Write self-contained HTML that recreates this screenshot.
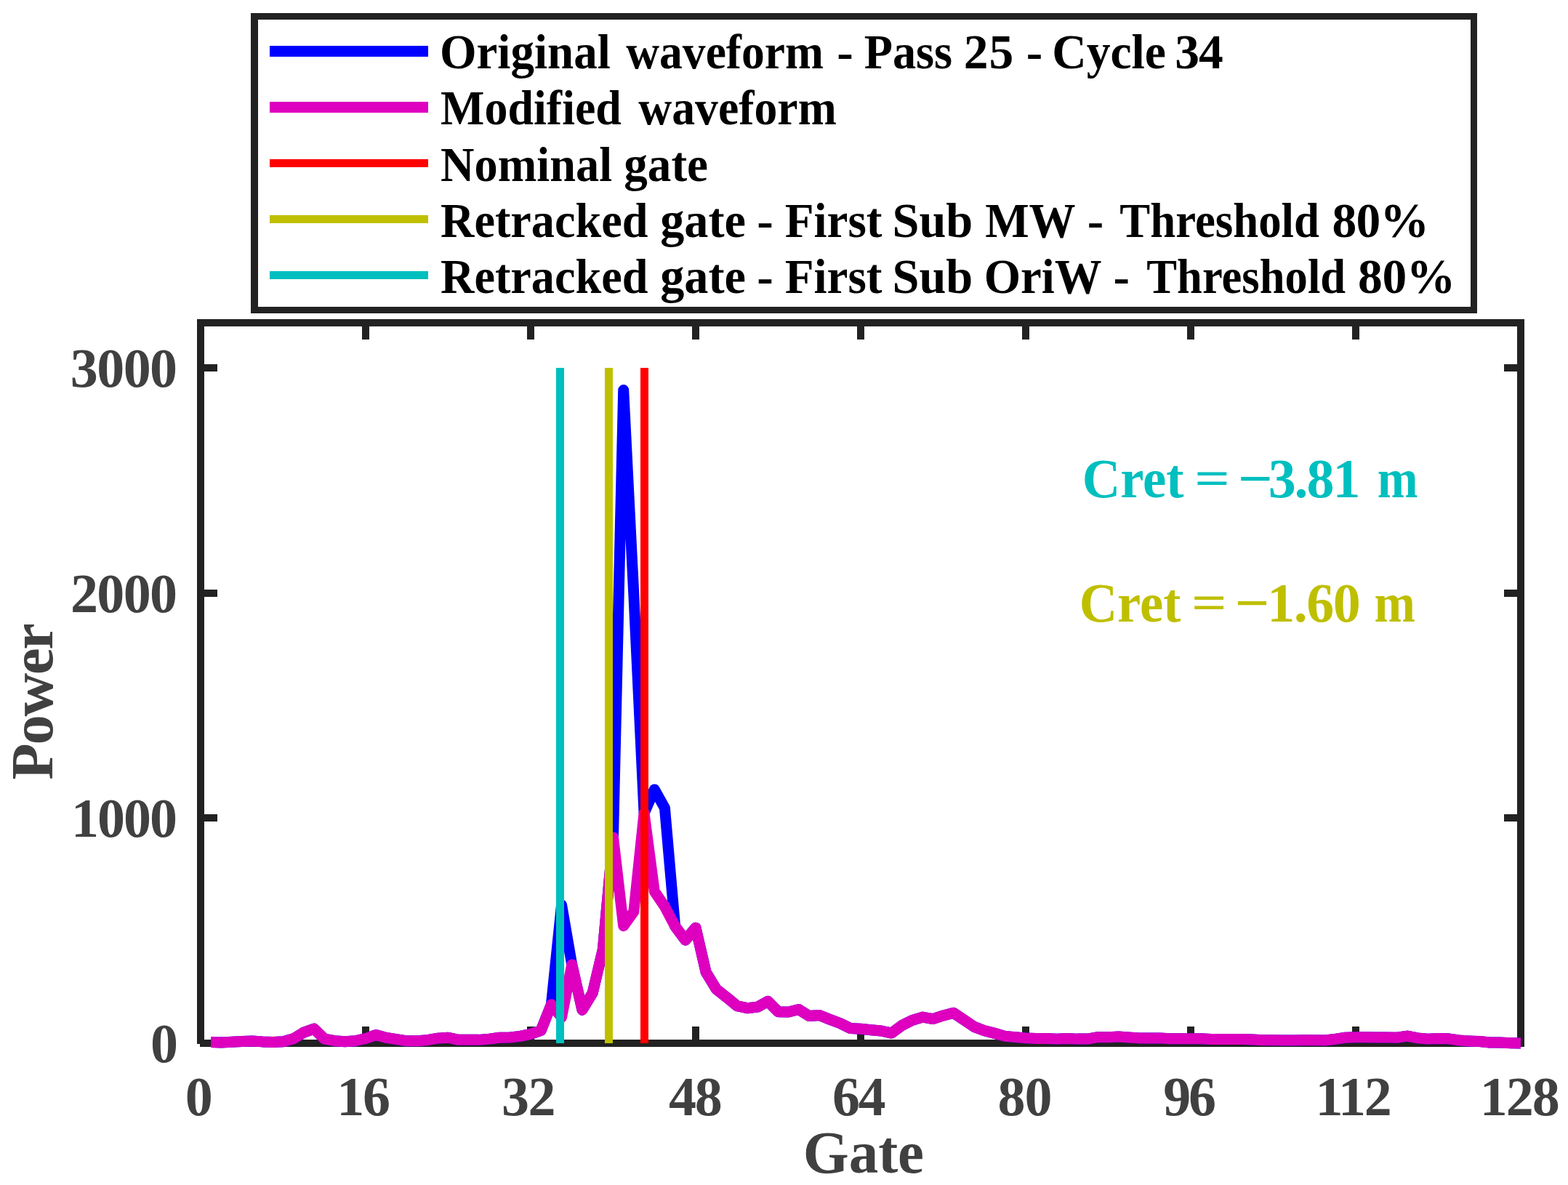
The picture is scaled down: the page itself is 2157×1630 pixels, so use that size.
<!DOCTYPE html>
<html><head><meta charset="utf-8"><title>Waveform plot</title><style>
html,body{margin:0;padding:0;background:#fff;}
body{width:2157px;height:1630px;overflow:hidden;}
svg{display:block;}
text{white-space:pre;}
</style></head><body>
<svg width="2157" height="1630" viewBox="0 0 2157 1630">
<rect width="2157" height="1630" fill="#fff"/>
<rect x="271" y="439" width="10" height="997" fill="#222222"/>
<rect x="271" y="439" width="1826" height="10" fill="#222222"/>
<rect x="2087" y="439" width="10" height="1001" fill="#222222"/>
<rect x="275" y="1430" width="1822" height="10" fill="#222222"/>
<rect x="498" y="449" width="10" height="18" fill="#222222"/>
<rect x="498" y="1412" width="10" height="18" fill="#222222"/>
<rect x="725" y="449" width="10" height="18" fill="#222222"/>
<rect x="725" y="1412" width="10" height="18" fill="#222222"/>
<rect x="952" y="449" width="10" height="18" fill="#222222"/>
<rect x="952" y="1412" width="10" height="18" fill="#222222"/>
<rect x="1179" y="449" width="10" height="18" fill="#222222"/>
<rect x="1179" y="1412" width="10" height="18" fill="#222222"/>
<rect x="1406" y="449" width="10" height="18" fill="#222222"/>
<rect x="1406" y="1412" width="10" height="18" fill="#222222"/>
<rect x="1633" y="449" width="10" height="18" fill="#222222"/>
<rect x="1633" y="1412" width="10" height="18" fill="#222222"/>
<rect x="1860" y="449" width="10" height="18" fill="#222222"/>
<rect x="1860" y="1412" width="10" height="18" fill="#222222"/>
<rect x="281" y="1120" width="18" height="10" fill="#222222"/>
<rect x="2069" y="1120" width="18" height="10" fill="#222222"/>
<rect x="281" y="811" width="18" height="10" fill="#222222"/>
<rect x="2069" y="811" width="18" height="10" fill="#222222"/>
<rect x="281" y="501" width="18" height="10" fill="#222222"/>
<rect x="2069" y="501" width="18" height="10" fill="#222222"/>
<polyline points="290.19,1433.61 304.38,1433.92 318.56,1433.30 332.75,1432.40 346.94,1431.90 361.12,1432.89 375.31,1433.39 389.50,1432.83 403.69,1428.81 417.88,1420.13 432.06,1415.18 446.25,1429.12 460.44,1431.72 474.62,1432.71 488.81,1431.72 503.00,1428.50 517.19,1423.60 531.38,1427.41 545.56,1429.70 559.75,1431.81 573.94,1431.81 588.12,1430.70 602.31,1428.19 616.50,1427.26 630.69,1430.35 644.88,1430.35 659.06,1430.35 673.25,1429.12 687.44,1427.26 701.62,1426.95 715.81,1425.40 730.00,1422.30 744.19,1417.35 758.38,1381.73 772.56,1244.85 786.75,1326.92 800.94,1389.17 815.12,1365.94 829.31,1306.17 843.50,1151.95 857.69,536.60 871.88,818.72 886.06,1118.50 900.25,1085.98 914.44,1111.38 928.62,1273.96 942.81,1293.16 957.00,1276.13 971.19,1337.45 985.38,1360.67 999.56,1371.82 1013.75,1383.59 1027.94,1386.69 1042.12,1385.14 1056.31,1377.40 1070.50,1391.64 1084.69,1391.95 1098.88,1388.55 1113.06,1397.53 1127.25,1396.60 1141.44,1402.17 1155.62,1407.44 1169.81,1414.56 1184.00,1415.18 1198.19,1416.73 1212.38,1417.97 1226.56,1421.06 1240.75,1410.53 1254.94,1403.41 1269.12,1399.08 1283.31,1401.55 1297.50,1396.91 1311.69,1393.19 1325.88,1402.79 1340.06,1412.39 1354.25,1417.66 1368.44,1421.37 1382.62,1425.40 1396.81,1426.64 1411.00,1427.88 1425.19,1428.50 1439.38,1428.50 1453.56,1429.12 1467.75,1428.50 1481.94,1429.12 1496.12,1429.12 1510.31,1426.64 1524.50,1426.64 1538.69,1426.02 1552.88,1426.95 1567.06,1427.88 1581.25,1427.88 1595.44,1427.88 1609.62,1428.81 1623.81,1428.81 1638.00,1428.81 1652.19,1428.81 1666.38,1429.43 1680.56,1429.43 1694.75,1429.43 1708.94,1429.43 1723.12,1430.05 1737.31,1430.66 1751.50,1430.66 1765.69,1430.97 1779.88,1430.97 1794.06,1430.66 1808.25,1430.66 1822.44,1430.97 1836.62,1429.43 1850.81,1427.26 1865.00,1426.64 1879.19,1426.64 1893.38,1426.95 1907.56,1426.95 1921.75,1427.26 1935.94,1425.09 1950.12,1427.88 1964.31,1429.12 1978.50,1428.50 1992.69,1428.81 2006.88,1430.97 2021.06,1431.90 2035.25,1432.52 2049.44,1434.07 2063.62,1434.07 2077.81,1434.69 2092.00,1435.00" fill="none" stroke="#0000FF" stroke-width="15" stroke-linejoin="round" stroke-linecap="butt"/>
<polyline points="290.19,1433.61 304.38,1433.92 318.56,1433.30 332.75,1432.40 346.94,1431.90 361.12,1432.89 375.31,1433.39 389.50,1432.83 403.69,1428.81 417.88,1420.13 432.06,1415.18 446.25,1429.12 460.44,1431.72 474.62,1432.71 488.81,1431.72 503.00,1428.50 517.19,1423.60 531.38,1427.41 545.56,1429.70 559.75,1431.81 573.94,1431.81 588.12,1430.70 602.31,1428.19 616.50,1427.26 630.69,1430.35 644.88,1430.35 659.06,1430.35 673.25,1429.12 687.44,1427.26 701.62,1426.95 715.81,1425.40 730.00,1422.30 744.19,1417.35 758.38,1381.73 772.56,1399.39 786.75,1326.92 800.94,1389.17 815.12,1365.94 829.31,1306.17 843.50,1151.95 857.69,1273.65 871.88,1253.83 886.06,1118.50 900.25,1225.96 914.44,1247.02 928.62,1273.96 942.81,1293.16 957.00,1276.13 971.19,1337.45 985.38,1360.67 999.56,1371.82 1013.75,1383.59 1027.94,1386.69 1042.12,1385.14 1056.31,1377.40 1070.50,1391.64 1084.69,1391.95 1098.88,1388.55 1113.06,1397.53 1127.25,1396.60 1141.44,1402.17 1155.62,1407.44 1169.81,1414.56 1184.00,1415.18 1198.19,1416.73 1212.38,1417.97 1226.56,1421.06 1240.75,1410.53 1254.94,1403.41 1269.12,1399.08 1283.31,1401.55 1297.50,1396.91 1311.69,1393.19 1325.88,1402.79 1340.06,1412.39 1354.25,1417.66 1368.44,1421.37 1382.62,1425.40 1396.81,1426.64 1411.00,1427.88 1425.19,1428.50 1439.38,1428.50 1453.56,1429.12 1467.75,1428.50 1481.94,1429.12 1496.12,1429.12 1510.31,1426.64 1524.50,1426.64 1538.69,1426.02 1552.88,1426.95 1567.06,1427.88 1581.25,1427.88 1595.44,1427.88 1609.62,1428.81 1623.81,1428.81 1638.00,1428.81 1652.19,1428.81 1666.38,1429.43 1680.56,1429.43 1694.75,1429.43 1708.94,1429.43 1723.12,1430.05 1737.31,1430.66 1751.50,1430.66 1765.69,1430.97 1779.88,1430.97 1794.06,1430.66 1808.25,1430.66 1822.44,1430.97 1836.62,1429.43 1850.81,1427.26 1865.00,1426.64 1879.19,1426.64 1893.38,1426.95 1907.56,1426.95 1921.75,1427.26 1935.94,1425.09 1950.12,1427.88 1964.31,1429.12 1978.50,1428.50 1992.69,1428.81 2006.88,1430.97 2021.06,1431.90 2035.25,1432.52 2049.44,1434.07 2063.62,1434.07 2077.81,1434.69 2092.00,1435.00" fill="none" stroke="#DE00BE" stroke-width="15" stroke-linejoin="round" stroke-linecap="butt"/>
<rect x="881" y="506" width="11" height="929" fill="#FF0000"/>
<rect x="832" y="506" width="11" height="929" fill="#BFBF00"/>
<rect x="765" y="506" width="11" height="929" fill="#00BFBF"/>
<rect x="345" y="18" width="1687" height="413" fill="#ffffff"/>
<rect x="345" y="18" width="10" height="413" fill="#222222"/>
<rect x="345" y="18" width="1687" height="9" fill="#222222"/>
<rect x="2023" y="18" width="9" height="413" fill="#222222"/>
<rect x="345" y="422" width="1687" height="9" fill="#222222"/>
<rect x="371" y="63" width="218" height="15" fill="#0000FF"/>
<rect x="371" y="140" width="218" height="15" fill="#DE00BE"/>
<rect x="371" y="219" width="218" height="11" fill="#FF0000"/>
<rect x="371" y="296" width="218" height="11" fill="#BFBF00"/>
<rect x="371" y="373" width="218" height="11" fill="#00BFBF"/>
<text transform="translate(604.91,94.00) scale(0.9633,1)" style="font-family:'Liberation Serif','Times New Roman',serif;font-weight:bold;font-size:67.5px" fill="#000000">Original</text>
<text transform="translate(861.20,94.00) scale(0.9417,1)" style="font-family:'Liberation Serif','Times New Roman',serif;font-weight:bold;font-size:67.5px" fill="#000000">waveform</text>
<text x="1151.30" y="94.00" style="font-family:'Liberation Serif','Times New Roman',serif;font-weight:bold;font-size:67.5px" fill="#000000">-</text>
<text transform="translate(1188.75,94.00) scale(0.9520,1)" style="font-family:'Liberation Serif','Times New Roman',serif;font-weight:bold;font-size:67.5px" fill="#000000">Pass</text>
<text x="1325.80" y="94.00" style="font-family:'Liberation Serif','Times New Roman',serif;font-weight:bold;font-size:67.5px;letter-spacing:1.000px" fill="#000000">25</text>
<text x="1411.80" y="94.00" style="font-family:'Liberation Serif','Times New Roman',serif;font-weight:bold;font-size:67.5px" fill="#000000">-</text>
<text transform="translate(1447.28,94.00) scale(0.9724,1)" style="font-family:'Liberation Serif','Times New Roman',serif;font-weight:bold;font-size:67.5px" fill="#000000">Cycle</text>
<text x="1616.20" y="94.00" style="font-family:'Liberation Serif','Times New Roman',serif;font-weight:bold;font-size:67.5px;letter-spacing:-0.900px" fill="#000000">34</text>
<text transform="translate(606.05,171.40) scale(0.9483,1)" style="font-family:'Liberation Serif','Times New Roman',serif;font-weight:bold;font-size:67.5px" fill="#000000">Modified</text>
<text transform="translate(878.20,171.40) scale(0.9444,1)" style="font-family:'Liberation Serif','Times New Roman',serif;font-weight:bold;font-size:67.5px" fill="#000000">waveform</text>
<text transform="translate(606.05,248.60) scale(0.9535,1)" style="font-family:'Liberation Serif','Times New Roman',serif;font-weight:bold;font-size:67.5px" fill="#000000">Nominal</text>
<text transform="translate(858.17,248.60) scale(0.9664,1)" style="font-family:'Liberation Serif','Times New Roman',serif;font-weight:bold;font-size:67.5px" fill="#000000">gate</text>
<text transform="translate(606.05,325.80) scale(0.9520,1)" style="font-family:'Liberation Serif','Times New Roman',serif;font-weight:bold;font-size:67.5px" fill="#000000">Retracked</text>
<text transform="translate(908.13,325.80) scale(0.9836,1)" style="font-family:'Liberation Serif','Times New Roman',serif;font-weight:bold;font-size:67.5px" fill="#000000">gate</text>
<text x="1041.20" y="325.80" style="font-family:'Liberation Serif','Times New Roman',serif;font-weight:bold;font-size:67.5px" fill="#000000">-</text>
<text transform="translate(1079.74,325.80) scale(0.9650,1)" style="font-family:'Liberation Serif','Times New Roman',serif;font-weight:bold;font-size:67.5px" fill="#000000">First</text>
<text transform="translate(1227.46,325.80) scale(0.9840,1)" style="font-family:'Liberation Serif','Times New Roman',serif;font-weight:bold;font-size:67.5px" fill="#000000">Sub</text>
<text transform="translate(1355.15,325.80) scale(0.9488,1)" style="font-family:'Liberation Serif','Times New Roman',serif;font-weight:bold;font-size:67.5px" fill="#000000">MW</text>
<text x="1495.80" y="325.80" style="font-family:'Liberation Serif','Times New Roman',serif;font-weight:bold;font-size:67.5px" fill="#000000">-</text>
<text transform="translate(1540.27,325.80) scale(0.9311,1)" style="font-family:'Liberation Serif','Times New Roman',serif;font-weight:bold;font-size:67.5px" fill="#000000">Threshold</text>
<text x="1832.40" y="325.80" style="font-family:'Liberation Serif','Times New Roman',serif;font-weight:bold;font-size:67.5px;letter-spacing:-0.750px" fill="#000000">80%</text>
<text transform="translate(606.05,403.10) scale(0.9520,1)" style="font-family:'Liberation Serif','Times New Roman',serif;font-weight:bold;font-size:67.5px" fill="#000000">Retracked</text>
<text transform="translate(908.13,403.10) scale(0.9836,1)" style="font-family:'Liberation Serif','Times New Roman',serif;font-weight:bold;font-size:67.5px" fill="#000000">gate</text>
<text x="1041.20" y="403.10" style="font-family:'Liberation Serif','Times New Roman',serif;font-weight:bold;font-size:67.5px" fill="#000000">-</text>
<text transform="translate(1079.74,403.10) scale(0.9650,1)" style="font-family:'Liberation Serif','Times New Roman',serif;font-weight:bold;font-size:67.5px" fill="#000000">First</text>
<text transform="translate(1227.46,403.10) scale(0.9840,1)" style="font-family:'Liberation Serif','Times New Roman',serif;font-weight:bold;font-size:67.5px" fill="#000000">Sub</text>
<text transform="translate(1353.72,403.10) scale(0.9594,1)" style="font-family:'Liberation Serif','Times New Roman',serif;font-weight:bold;font-size:67.5px" fill="#000000">OriW</text>
<text x="1531.50" y="403.10" style="font-family:'Liberation Serif','Times New Roman',serif;font-weight:bold;font-size:67.5px" fill="#000000">-</text>
<text transform="translate(1577.27,403.10) scale(0.9283,1)" style="font-family:'Liberation Serif','Times New Roman',serif;font-weight:bold;font-size:67.5px" fill="#000000">Threshold</text>
<text x="1868.10" y="403.10" style="font-family:'Liberation Serif','Times New Roman',serif;font-weight:bold;font-size:67.5px;letter-spacing:-0.400px" fill="#000000">80%</text>
<text x="254.80" y="1534.30" style="font-family:'Liberation Serif','Times New Roman',serif;font-weight:bold;font-size:76px" fill="#404040">0</text>
<text x="463.20" y="1534.30" style="font-family:'Liberation Serif','Times New Roman',serif;font-weight:bold;font-size:76px;letter-spacing:-2.100px" fill="#404040">16</text>
<text x="690.00" y="1534.30" style="font-family:'Liberation Serif','Times New Roman',serif;font-weight:bold;font-size:76px;letter-spacing:-1.400px" fill="#404040">32</text>
<text x="919.90" y="1534.30" style="font-family:'Liberation Serif','Times New Roman',serif;font-weight:bold;font-size:76px;letter-spacing:-2.100px" fill="#404040">48</text>
<text x="1145.00" y="1534.30" style="font-family:'Liberation Serif','Times New Roman',serif;font-weight:bold;font-size:76px;letter-spacing:-2.400px" fill="#404040">64</text>
<text x="1372.40" y="1534.30" style="font-family:'Liberation Serif','Times New Roman',serif;font-weight:bold;font-size:76px;letter-spacing:-0.900px" fill="#404040">80</text>
<text x="1600.30" y="1534.30" style="font-family:'Liberation Serif','Times New Roman',serif;font-weight:bold;font-size:76px;letter-spacing:-3.400px" fill="#404040">96</text>
<text x="1809.40" y="1534.30" style="font-family:'Liberation Serif','Times New Roman',serif;font-weight:bold;font-size:76px;letter-spacing:-2.200px" fill="#404040">112</text>
<text x="2035.80" y="1534.30" style="font-family:'Liberation Serif','Times New Roman',serif;font-weight:bold;font-size:76px;letter-spacing:-2.000px" fill="#404040">128</text>
<text x="96.80" y="532.30" style="font-family:'Liberation Serif','Times New Roman',serif;font-weight:bold;font-size:76px;letter-spacing:-1.567px" fill="#404040">3000</text>
<text x="97.00" y="842.00" style="font-family:'Liberation Serif','Times New Roman',serif;font-weight:bold;font-size:76px;letter-spacing:-1.633px" fill="#404040">2000</text>
<text x="98.00" y="1151.20" style="font-family:'Liberation Serif','Times New Roman',serif;font-weight:bold;font-size:76px;letter-spacing:-1.967px" fill="#404040">1000</text>
<text x="207.00" y="1461.00" style="font-family:'Liberation Serif','Times New Roman',serif;font-weight:bold;font-size:76px" fill="#404040">0</text>
<text transform="translate(1104.67,1612.50) scale(0.9816,1)" style="font-family:'Liberation Serif','Times New Roman',serif;font-weight:bold;font-size:82.5px" fill="#404040">Gate</text>
<text transform="translate(1488.67,683.70) scale(0.9563,1)" style="font-family:'Liberation Serif','Times New Roman',serif;font-weight:bold;font-size:76px" fill="#00BFBF">Cret</text>
<text transform="translate(1643.30,679.93) scale(1.1257,0.8550)" style="font-family:'Liberation Serif','Times New Roman',serif;font-weight:bold;font-size:76px" fill="#00BFBF">=</text>
<text transform="translate(1702.65,683.70) scale(1.1114,1)" style="font-family:'Liberation Serif','Times New Roman',serif;font-weight:bold;font-size:76px" fill="#00BFBF">&#8722;</text>
<text x="1744.70" y="683.70" style="font-family:'Liberation Serif','Times New Roman',serif;font-weight:bold;font-size:76px;letter-spacing:-2.067px" fill="#00BFBF">3.81</text>
<text transform="translate(1894.74,683.70) scale(0.8817,1)" style="font-family:'Liberation Serif','Times New Roman',serif;font-weight:bold;font-size:76px" fill="#00BFBF">m</text>
<text transform="translate(1484.68,854.50) scale(0.9549,1)" style="font-family:'Liberation Serif','Times New Roman',serif;font-weight:bold;font-size:76px" fill="#BFBF00">Cret</text>
<text transform="translate(1638.90,850.73) scale(1.1257,0.8550)" style="font-family:'Liberation Serif','Times New Roman',serif;font-weight:bold;font-size:76px" fill="#BFBF00">=</text>
<text transform="translate(1698.58,854.50) scale(1.1057,1)" style="font-family:'Liberation Serif','Times New Roman',serif;font-weight:bold;font-size:76px" fill="#BFBF00">&#8722;</text>
<text x="1743.30" y="854.50" style="font-family:'Liberation Serif','Times New Roman',serif;font-weight:bold;font-size:76px;letter-spacing:-1.533px" fill="#BFBF00">1.60</text>
<text transform="translate(1890.52,854.50) scale(0.8900,1)" style="font-family:'Liberation Serif','Times New Roman',serif;font-weight:bold;font-size:76px" fill="#BFBF00">m</text>
<text transform="rotate(-90)" x="-1072.80" y="72.00" style="font-family:'Liberation Serif','Times New Roman',serif;font-weight:bold;font-size:82.5px;letter-spacing:-2.175px" fill="#404040">Power</text>
</svg>
</body></html>
